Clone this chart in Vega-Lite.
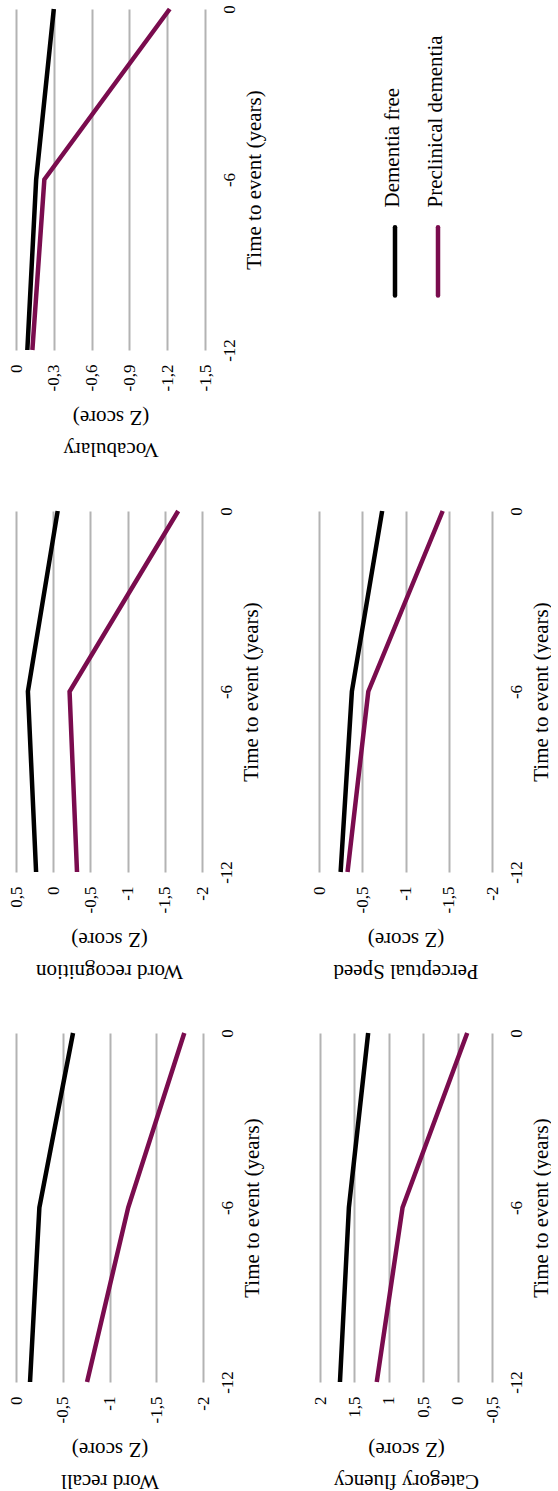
{
  "$schema": "https://vega.github.io/schema/vega-lite/v6.json",
  "background": "white",
  "padding": {"left": 7, "top": 0, "right": 0, "bottom": 12},
  "config": {
    "view": {"stroke": null},
    "font": "Liberation Serif",
    "axis": {
      "domain": false, "ticks": false,
      "labelFont": "Liberation Serif", "labelFontSize": 17, "labelColor": "#000000",
      "titleFont": "Liberation Serif", "titleFontSize": 21, "titleFontWeight": "normal", "titleColor": "#000000"
    },
    "axisX": {
      "grid": true, "gridColor": "#b3b3b3", "gridWidth": 2,
      "labelAngle": -90, "labelPadding": 14,
      "titleAngle": 180, "titleBaseline": "bottom", "titleLineHeight": 32, "titleY": 88,
      "labelExpr": "(datum.value < 0 ? '-' : '') + replace(toString(abs(datum.value)), '.', ',')"
    },
    "axisY": {
      "grid": false, "labelAngle": -90, "labelAlign": "center", "labelBaseline": "top", "labelPadding": 16,
      "titleAngle": -90, "titleBaseline": "top", "titlePadding": 6,
      "labelExpr": "toString(datum.value)"
    },
    "line": {"strokeWidth": 4.5, "strokeCap": "butt"}
  },
  "datasets": {
    "scores": [
      {"test": "Vocabulary", "group": "Dementia free", "time": -12, "score": -0.09},
      {"test": "Vocabulary", "group": "Dementia free", "time": -6, "score": -0.16},
      {"test": "Vocabulary", "group": "Dementia free", "time": 0, "score": -0.3},
      {"test": "Vocabulary", "group": "Preclinical dementia", "time": -12, "score": -0.13},
      {"test": "Vocabulary", "group": "Preclinical dementia", "time": -6, "score": -0.225},
      {"test": "Vocabulary", "group": "Preclinical dementia", "time": 0, "score": -1.22},
      {"test": "Word recognition", "group": "Dementia free", "time": -12, "score": 0.23},
      {"test": "Word recognition", "group": "Dementia free", "time": -6, "score": 0.34},
      {"test": "Word recognition", "group": "Dementia free", "time": 0, "score": -0.06},
      {"test": "Word recognition", "group": "Preclinical dementia", "time": -12, "score": -0.32},
      {"test": "Word recognition", "group": "Preclinical dementia", "time": -6, "score": -0.22},
      {"test": "Word recognition", "group": "Preclinical dementia", "time": 0, "score": -1.68},
      {"test": "Perceptual Speed", "group": "Dementia free", "time": -12, "score": -0.25},
      {"test": "Perceptual Speed", "group": "Dementia free", "time": -6, "score": -0.38},
      {"test": "Perceptual Speed", "group": "Dementia free", "time": 0, "score": -0.73},
      {"test": "Perceptual Speed", "group": "Preclinical dementia", "time": -12, "score": -0.33},
      {"test": "Perceptual Speed", "group": "Preclinical dementia", "time": -6, "score": -0.57},
      {"test": "Perceptual Speed", "group": "Preclinical dementia", "time": 0, "score": -1.43},
      {"test": "Word recall", "group": "Dementia free", "time": -12, "score": -0.15},
      {"test": "Word recall", "group": "Dementia free", "time": -6, "score": -0.25},
      {"test": "Word recall", "group": "Dementia free", "time": 0, "score": -0.61},
      {"test": "Word recall", "group": "Preclinical dementia", "time": -12, "score": -0.76},
      {"test": "Word recall", "group": "Preclinical dementia", "time": -6, "score": -1.2},
      {"test": "Word recall", "group": "Preclinical dementia", "time": 0, "score": -1.8},
      {"test": "Category fluency", "group": "Dementia free", "time": -12, "score": 1.71},
      {"test": "Category fluency", "group": "Dementia free", "time": -6, "score": 1.58},
      {"test": "Category fluency", "group": "Dementia free", "time": 0, "score": 1.3},
      {"test": "Category fluency", "group": "Preclinical dementia", "time": -12, "score": 1.175},
      {"test": "Category fluency", "group": "Preclinical dementia", "time": -6, "score": 0.8},
      {"test": "Category fluency", "group": "Preclinical dementia", "time": 0, "score": -0.14}
    ],
    "groups": [
      {"group": "Dementia free"},
      {"group": "Preclinical dementia"}
    ]
  },
  "spacing": 43,
  "vconcat": [
    {
      "spacing": 49,
      "hconcat": [
        {
          "data": {"name": "scores"},
          "width": 189, "height": 341,
          "transform": [{"filter": "datum.test === 'Vocabulary'"}],
          "mark": "line",
          "encoding": {
            "x": {"field": "score", "type": "quantitative", "scale": {"domain": [-1.5, 0], "reverse": true, "nice": false, "zero": false},
                  "axis": {"values": [0, -0.3, -0.6, -0.9, -1.2, -1.5], "title": ["Vocabulary", "(Z score)"]}},
            "y": {"field": "time", "type": "quantitative", "scale": {"domain": [-12, 0], "nice": false},
                  "axis": {"orient": "right", "values": [-12, -6, 0], "title": "Time to event (years)"}},
            "order": {"field": "time", "type": "quantitative"},
            "color": {"field": "group", "type": "nominal", "scale": {"domain": ["Dementia free", "Preclinical dementia"], "range": ["#000000", "#7a0c4e"]}, "legend": null}
          }
        },
        {
          "data": {"name": "groups"},
          "width": 195, "height": 341,
          "layer": [
            {
              "mark": {"type": "rule", "strokeWidth": 4.5, "strokeCap": "round"},
              "encoding": {
                "x": {"field": "group", "type": "nominal", "scale": {"type": "point", "padding": 0, "range": [82, 125]}, "axis": null},
                "y": {"datum": 0.36, "type": "quantitative", "scale": {"domain": [0, 1]}, "axis": null},
                "y2": {"datum": 0.16},
                "color": {"field": "group", "type": "nominal", "scale": {"domain": ["Dementia free", "Preclinical dementia"], "range": ["#000000", "#7a0c4e"]}, "legend": null}
              }
            },
            {
              "mark": {"type": "text", "angle": 270, "align": "left", "baseline": "middle", "fontSize": 21, "font": "Liberation Serif", "color": "#000000", "dy": -2},
              "encoding": {
                "x": {"field": "group", "type": "nominal", "scale": {"type": "point", "padding": 0, "range": [82, 125]}, "axis": null},
                "y": {"datum": 0.418, "type": "quantitative", "scale": {"domain": [0, 1]}, "axis": null},
                "text": {"field": "group"}
              }
            }
          ]
        }
      ]
    },
    {
      "spacing": 49,
      "hconcat": [
        {
          "data": {"name": "scores"},
          "width": 186, "height": 361,
          "transform": [{"filter": "datum.test === 'Word recognition'"}],
          "mark": "line",
          "encoding": {
            "x": {"field": "score", "type": "quantitative", "scale": {"domain": [-2, 0.5], "reverse": true, "nice": false, "zero": false},
                  "axis": {"values": [0.5, 0, -0.5, -1, -1.5, -2], "title": ["Word recognition", "(Z score)"]}},
            "y": {"field": "time", "type": "quantitative", "scale": {"domain": [-12, 0], "nice": false},
                  "axis": {"orient": "right", "values": [-12, -6, 0], "title": "Time to event (years)"}},
            "order": {"field": "time", "type": "quantitative"},
            "color": {"field": "group", "type": "nominal", "scale": {"domain": ["Dementia free", "Preclinical dementia"], "range": ["#000000", "#7a0c4e"]}, "legend": null}
          }
        },
        {
          "data": {"name": "scores"},
          "width": 173, "height": 361,
          "transform": [{"filter": "datum.test === 'Perceptual Speed'"}],
          "mark": "line",
          "encoding": {
            "x": {"field": "score", "type": "quantitative", "scale": {"domain": [-2, 0], "reverse": true, "nice": false, "zero": false},
                  "axis": {"values": [0, -0.5, -1, -1.5, -2], "title": ["Perceptual Speed", "(Z score)"]}},
            "y": {"field": "time", "type": "quantitative", "scale": {"domain": [-12, 0], "nice": false},
                  "axis": {"orient": "right", "values": [-12, -6, 0], "title": "Time to event (years)"}},
            "order": {"field": "time", "type": "quantitative"},
            "color": {"field": "group", "type": "nominal", "scale": {"domain": ["Dementia free", "Preclinical dementia"], "range": ["#000000", "#7a0c4e"]}, "legend": null}
          }
        }
      ]
    },
    {
      "spacing": 49,
      "hconcat": [
        {
          "data": {"name": "scores"},
          "width": 187, "height": 349,
          "transform": [{"filter": "datum.test === 'Word recall'"}],
          "mark": "line",
          "encoding": {
            "x": {"field": "score", "type": "quantitative", "scale": {"domain": [-2, 0], "reverse": true, "nice": false, "zero": false},
                  "axis": {"values": [0, -0.5, -1, -1.5, -2], "title": ["Word recall", "(Z score)"]}},
            "y": {"field": "time", "type": "quantitative", "scale": {"domain": [-12, 0], "nice": false},
                  "axis": {"orient": "right", "values": [-12, -6, 0], "title": "Time to event (years)"}},
            "order": {"field": "time", "type": "quantitative"},
            "color": {"field": "group", "type": "nominal", "scale": {"domain": ["Dementia free", "Preclinical dementia"], "range": ["#000000", "#7a0c4e"]}, "legend": null}
          }
        },
        {
          "data": {"name": "scores"},
          "width": 172, "height": 349,
          "transform": [{"filter": "datum.test === 'Category fluency'"}],
          "mark": "line",
          "encoding": {
            "x": {"field": "score", "type": "quantitative", "scale": {"domain": [-0.5, 2], "reverse": true, "nice": false, "zero": false},
                  "axis": {"values": [2, 1.5, 1, 0.5, 0, -0.5], "title": ["Category fluency", "(Z score)"]}},
            "y": {"field": "time", "type": "quantitative", "scale": {"domain": [-12, 0], "nice": false},
                  "axis": {"orient": "right", "values": [-12, -6, 0], "title": "Time to event (years)"}},
            "order": {"field": "time", "type": "quantitative"},
            "color": {"field": "group", "type": "nominal", "scale": {"domain": ["Dementia free", "Preclinical dementia"], "range": ["#000000", "#7a0c4e"]}, "legend": null}
          }
        }
      ]
    }
  ]
}
